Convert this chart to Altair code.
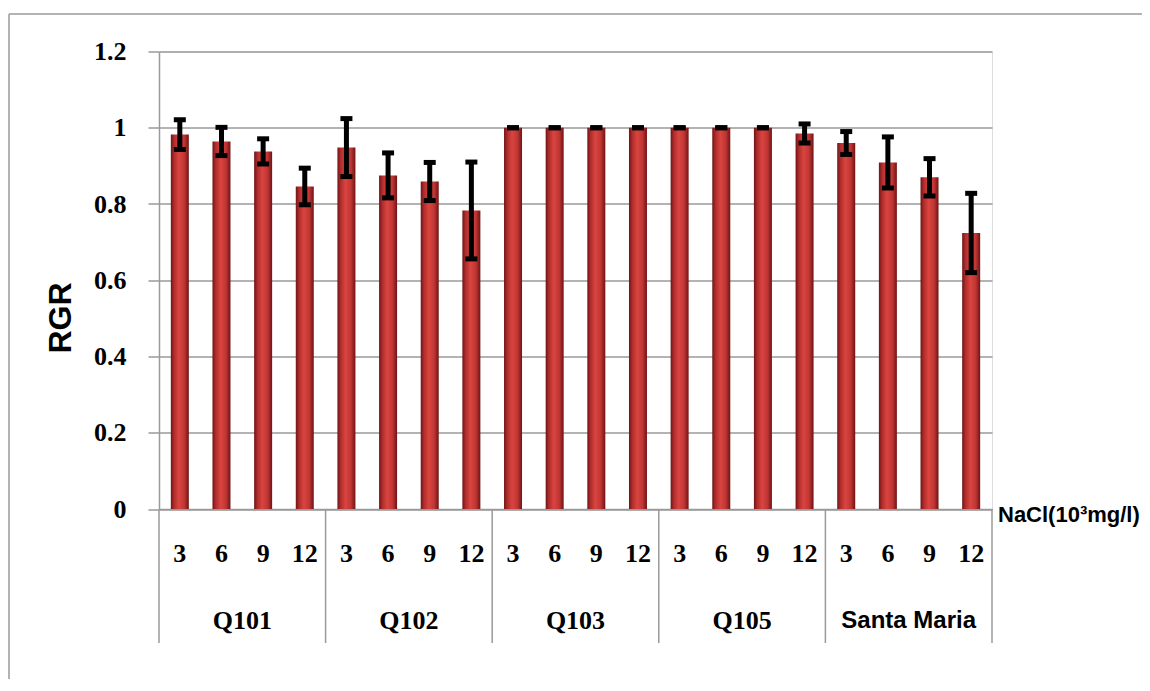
import altair as alt
import pandas as pd

groups = ["Q101", "Q102", "Q103", "Q105", "Santa Maria"]
nacl = ["3", "6", "9", "12"]
rgr = [
    0.982, 0.964, 0.938, 0.846,   # Q101
    0.948, 0.875, 0.859, 0.783,   # Q102
    1.0, 1.0, 1.0, 1.0,           # Q103
    1.0, 1.0, 1.0, 0.985,         # Q105
    0.960, 0.909, 0.870, 0.724,   # Santa Maria
]
err = [
    0.039, 0.037, 0.033, 0.048,
    0.076, 0.059, 0.050, 0.127,
    0.0, 0.0, 0.0, 0.0,
    0.0, 0.0, 0.0, 0.025,
    0.030, 0.067, 0.049, 0.104,
]
y_ticks = [0, 0.2, 0.4, 0.6, 0.8, 1, 1.2]

rows = []
i = 0
for g in groups:
    for c in nacl:
        rows.append({"key": g + "|" + c, "group": g, "nacl": c,
                     "rgr": rgr[i], "lo": rgr[i] - err[i], "hi": rgr[i] + err[i]})
        i += 1
df = pd.DataFrame(rows)
keys = list(df["key"])

W, H = 833, 457.5
GRAY = "#9a9a9a"

xenc = alt.X("key:N", sort=keys,
             scale=alt.Scale(paddingInner=0, paddingOuter=0),
             axis=alt.Axis(title=None, labelExpr="split(datum.value, '|')[1]",
                           labelAngle=0, ticks=False, domainColor=GRAY, domainWidth=1.5,
                           labelFont="Liberation Serif", labelFontWeight="bold",
                           labelFontSize=26, labelColor="black",
                           labelBaseline="middle", labelPadding=44))

yscale = alt.Scale(domain=[0, 1.2], nice=False)

grad = alt.Gradient(
    gradient="linear", x1=0, x2=1, y1=0, y2=0,
    stops=[alt.GradientStop(offset=0, color="#6e1414"),
           alt.GradientStop(offset=0.18, color="#b02c2c"),
           alt.GradientStop(offset=0.45, color="#d9453f"),
           alt.GradientStop(offset=0.75, color="#c03534"),
           alt.GradientStop(offset=1, color="#6e1414")])

bars = alt.Chart(df).mark_bar(width=18, fill=grad).encode(
    x=xenc,
    y=alt.Y("rgr:Q", scale=yscale,
            axis=alt.Axis(values=y_ticks, format="~g", title="RGR",
                          grid=True, gridColor=GRAY, gridWidth=1.5,
                          tickSize=11, tickColor=GRAY, tickWidth=1.5,
                          domainColor=GRAY, domainWidth=1.5,
                          labelFont="Liberation Serif", labelFontWeight="bold",
                          labelFontSize=26, labelColor="black", labelPadding=22,
                          titleFont="Liberation Sans", titleFontWeight="bold",
                          titleFontSize=32, titleColor="black",
                          titleX=-99, titleY=266, titleBaseline="middle")),
)

rules = alt.Chart(df).mark_rule(color="black", strokeWidth=5, opacity=1).encode(
    x=alt.X("key:N", sort=keys), y=alt.Y("lo:Q", scale=yscale), y2="hi:Q")
cap_hi = alt.Chart(df).mark_tick(color="black", size=12, thickness=5, opacity=1).encode(
    x=alt.X("key:N", sort=keys), y=alt.Y("hi:Q", scale=yscale))
cap_lo = alt.Chart(df).mark_tick(color="black", size=12, thickness=5, opacity=1).encode(
    x=alt.X("key:N", sort=keys), y=alt.Y("lo:Q", scale=yscale))

starts = pd.DataFrame({"key": [g + "|3" for g in groups]})
ends = pd.DataFrame({"key": [groups[-1] + "|12"]})
sep1 = alt.Chart(starts).mark_rule(color=GRAY, strokeWidth=1.5).encode(
    x=alt.X("key:N", sort=keys, bandPosition=0),
    y=alt.value(H), y2=alt.value(591.5))
sep2 = alt.Chart(ends).mark_rule(color=GRAY, strokeWidth=1.5).encode(
    x=alt.X("key:N", sort=keys, bandPosition=1),
    y=alt.value(H), y2=alt.value(591.5))

glab = pd.DataFrame({"key": [g + "|9" for g in groups], "label": groups})
glab_serif = alt.Chart(glab[glab["label"] != "Santa Maria"]).mark_text(
    font="Liberation Serif", fontWeight="bold", fontSize=26, color="black",
    baseline="middle", align="center").encode(
    x=alt.X("key:N", sort=keys, bandPosition=0), y=alt.value(569), text="label:N")
glab_sans = alt.Chart(glab[glab["label"] == "Santa Maria"]).mark_text(
    font="Liberation Sans", fontWeight="bold", fontSize=24, color="black",
    baseline="middle", align="center").encode(
    x=alt.X("key:N", sort=keys, bandPosition=0), y=alt.value(569), text="label:N")

nacl_lab = alt.Chart(pd.DataFrame({"t": ["NaCl(10³mg/l)"]})).mark_text(
    font="Liberation Sans", fontWeight="bold", fontSize=22, color="black",
    align="left", baseline="middle").encode(
    x=alt.value(839), y=alt.value(463.5), text="t:N")

border_top = alt.Chart(pd.DataFrame({"a": [0]})).mark_rule(color=GRAY, strokeWidth=1.5).encode(
    x=alt.value(-150), x2=alt.value(1000), y=alt.value(-37.5))
border_left = alt.Chart(pd.DataFrame({"a": [0]})).mark_rule(color=GRAY, strokeWidth=1.5).encode(
    x=alt.value(-150), y=alt.value(-37.5), y2=alt.value(640))

chart = alt.layer(
    bars, rules, cap_hi, cap_lo, sep1, sep2, glab_serif, glab_sans, nacl_lab,
    border_top, border_left
).properties(
    width=W, height=H,
    autosize=alt.AutoSizeParams(type="none"),
    padding={"left": 151, "top": 43.5, "right": 150, "bottom": 170},
).configure_view(stroke=None).configure(background="white")

chart.save("out.html", embed_options={"renderer": "svg", "actions": False})
